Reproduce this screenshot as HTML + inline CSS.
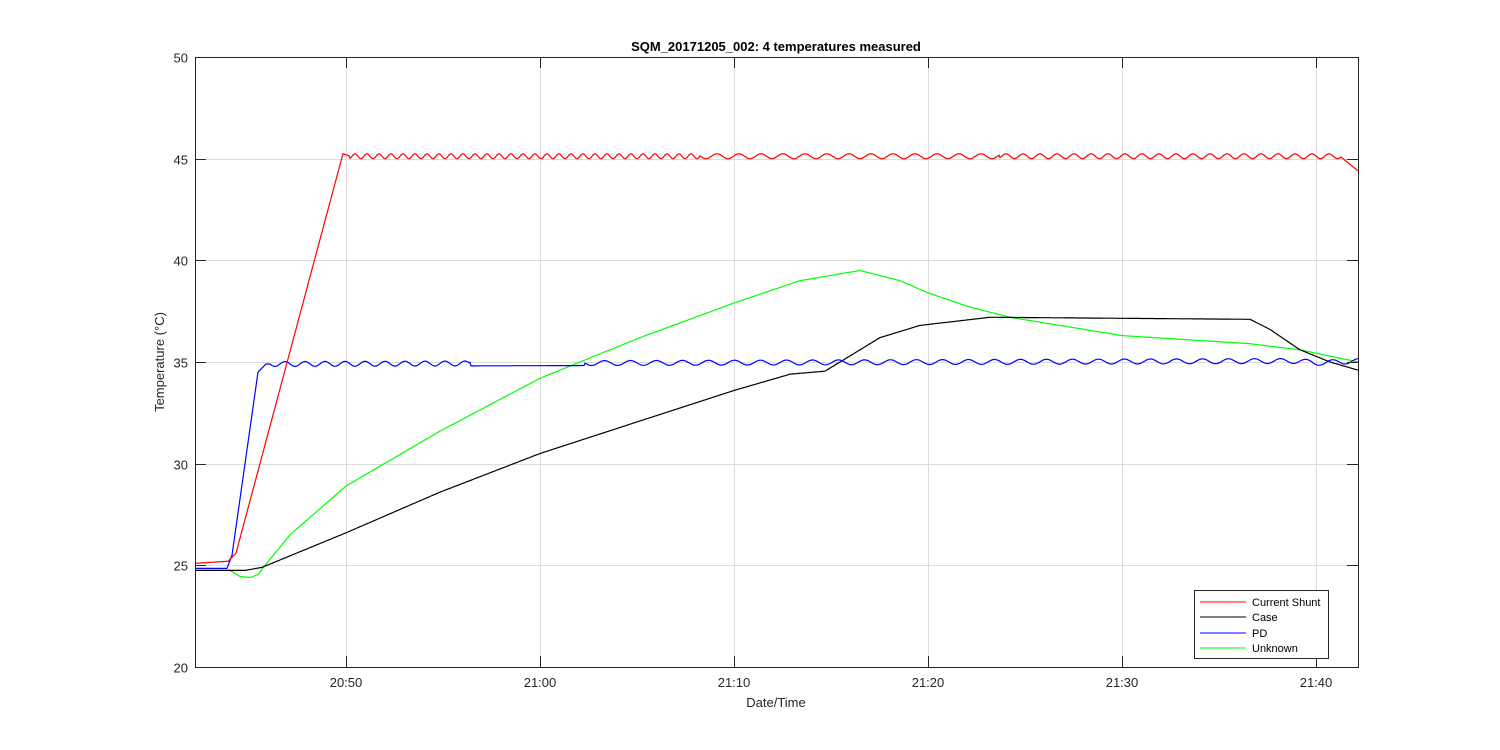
<!DOCTYPE html>
<html><head><meta charset="utf-8"><style>
html,body{margin:0;padding:0;background:#fff;}
svg{display:block;font-family:"Liberation Sans",sans-serif;}
</style></head><body>
<svg id="s" width="1500" height="750" xmlns="http://www.w3.org/2000/svg">
<rect width="1500" height="750" fill="#fff"/>
<g id="grid" stroke="#dcdcdc" stroke-width="1"></g>
<g id="data" fill="none" stroke-width="1.2"></g>
<rect x="195.5" y="57.5" width="1163" height="610" fill="none" stroke="#262626" stroke-width="1"/>
<g id="ticks" stroke="#262626"></g>
<g id="labels" font-size="13" fill="#262626"></g>
<text x="776" y="51" text-anchor="middle" font-size="13" font-weight="bold" fill="#000">SQM_20171205_002: 4 temperatures measured</text>
<text x="776" y="707" text-anchor="middle" font-size="13" fill="#262626">Date/Time</text>
<text transform="translate(164,362) rotate(-90)" text-anchor="middle" font-size="13" fill="#262626">Temperature (°C)</text>
<g>
<rect x="1194.5" y="590.5" width="134" height="68" fill="#fff" stroke="#262626"/>
<line x1="1200" x2="1246" y1="602" y2="602" stroke="#f00"/>
<line x1="1200" x2="1246" y1="617" y2="617" stroke="#000"/>
<line x1="1200" x2="1246" y1="633" y2="633" stroke="#00f"/>
<line x1="1200" x2="1246" y1="648" y2="648" stroke="#0f0"/>
<g font-size="11" fill="#000">
<text x="1252" y="606">Current Shunt</text>
<text x="1252" y="621">Case</text>
<text x="1252" y="637">PD</text>
<text x="1252" y="652">Unknown</text>
</g>
</g>
</svg>
<script>
var NS="http://www.w3.org/2000/svg";
function el(p,t,a){var e=document.createElementNS(NS,t);for(var k in a)e.setAttribute(k,a[k]);document.getElementById(p).appendChild(e);return e;}
function Y(t){return 667-(t-20)*20.333;}
var xt=[346,540,734,928,1122,1316],xl=["20:50","21:00","21:10","21:20","21:30","21:40"];
xt.forEach(function(x,i){el("grid","line",{x1:x+.5,x2:x+.5,y1:57,y2:667});
el("ticks","line",{x1:x+.5,x2:x+.5,y1:667,y2:656});el("ticks","line",{x1:x+.5,x2:x+.5,y1:57,y2:68});
var t=el("labels","text",{x:x,y:687,"text-anchor":"middle"});t.textContent=xl[i];});
for(var v=20;v<=50;v+=5){var y=Math.round(Y(v))+.5;
if(v>20&&v<50)el("grid","line",{x1:195,x2:1358,y1:y,y2:y});
el("ticks","line",{x1:195,x2:206,y1:y,y2:y});el("ticks","line",{x1:1358,x2:1347,y1:y,y2:y});
var t=el("labels","text",{x:188,y:y+5,"text-anchor":"end"});t.textContent=v;}
function interp(k,x){for(var i=0;i<k.length-1;i++){if(x<=k[i+1][0]){var a=k[i],b=k[i+1],u=(x-a[0])/(b[0]-a[0]);u=u<0?0:u;return a[1]+(b[1]-a[1])*u;}}return k[k.length-1][1];}
function series(k,col,osc){var d="";for(var x=195;x<=1358;x+=1){var v=interp(k,x);if(osc)v+=osc(x);d+=(x==195?"M":"L")+x+","+Y(v).toFixed(1);}
el("data","path",{d:d,stroke:col});}
series([[195,24.75],[230,24.75],[240,24.45],[250,24.4],[258,24.55],[265,25],[290,26.5],[346,28.9],[440,31.6],[540,34.2],[640,36.2],[734,37.9],[800,39],[860,39.5],[900,39],[928,38.4],[970,37.7],[1010,37.2],[1122,36.3],[1250,35.9],[1300,35.6],[1358,35.0]],"#0f0");
series([[195,24.75],[245,24.75],[262,24.9],[346,26.6],[440,28.6],[540,30.5],[640,32.1],[734,33.6],[790,34.4],[825,34.55],[850,35.3],[880,36.2],[920,36.8],[990,37.2],[1250,37.1],[1270,36.6],[1300,35.6],[1330,35],[1358,34.6]],"#000");
series([[195,24.85],[227,24.85],[232,25.5],[258,34.5],[266,34.9],[1300,35.05],[1315,34.95],[1358,35.05]],"#00f",function(x){if(x<270)return 0;if(x>470&&x<585)return -0.12;var p=x<470?20:26;return 0.12*Math.sin(2*Math.PI*x/p);});
series([[195,25.1],[228,25.2],[236,25.6],[343,45.25],[350,45.12],[1340,45.12],[1358,44.4]],"#f00",function(x){if(x<350||x>1340)return 0;var p=x<700?12:(x<1000?22:17);return 0.12*Math.cos(2*Math.PI*(x-343)/p);});
</script>
</body></html>
